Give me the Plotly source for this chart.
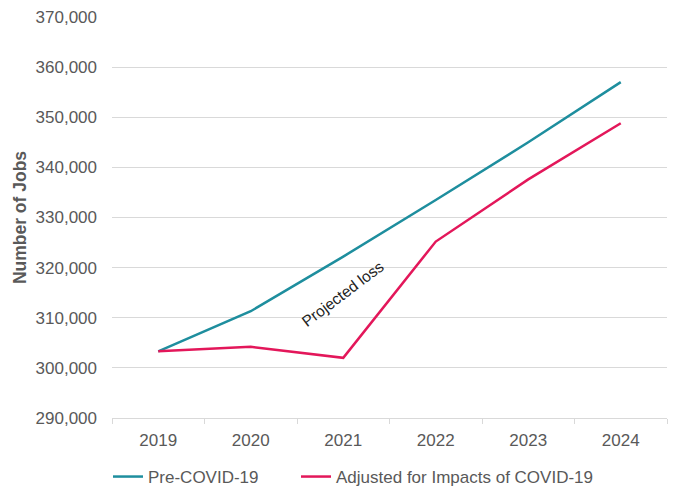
import plotly.graph_objects as go

years = ["2019", "2020", "2021", "2022", "2023", "2024"]
pre_covid = [303300, 311300, 322200, 333500, 345000, 357000]
adjusted = [303300, 304200, 302000, 325200, 337600, 348800]
y_ticks = [290000, 300000, 310000, 320000, 330000, 340000, 350000, 360000, 370000]

TEAL = "#1E8E9E"
CRIMSON = "#E3175A"
GREY_TXT = "#595959"
W, H = 673, 491

fig = go.Figure()
fig.add_trace(go.Scatter(x=years, y=pre_covid, mode="lines", name="Pre-COVID-19",
                         line=dict(color=TEAL, width=2.5), legend="legend"))
fig.add_trace(go.Scatter(x=years, y=adjusted, mode="lines",
                         name="Adjusted for Impacts of COVID-19",
                         line=dict(color=CRIMSON, width=2.5), legend="legend2"))

fig.add_annotation(x=2.0, y=314800, text="Projected loss", showarrow=False,
                   textangle=-37, font=dict(size=15.5, color="#222222"))

legend_common = dict(orientation="h", xref="container", yref="container",
                     xanchor="left", yanchor="middle", y=14 / H,
                     font=dict(size=17, color=GREY_TXT), bgcolor="rgba(0,0,0,0)")

fig.update_layout(
    width=W, height=H,
    margin=dict(l=112, r=6, t=17, b=73, autoexpand=False),
    paper_bgcolor="white", plot_bgcolor="white",
    font=dict(family="Liberation Sans, Arial, sans-serif", color=GREY_TXT, size=17),
    showlegend=True,
    legend=dict(legend_common, x=108 / W),
    legend2=dict(legend_common, x=296 / W),
    xaxis=dict(type="category", range=[-0.5, 5.5], showgrid=False,
               showline=True, linecolor="#d9d9d9", linewidth=1,
               ticks="outside", tickson="boundaries", ticklen=5,
               tickcolor="#d9d9d9", ticklabelstandoff=7,
               tickfont=dict(size=17, color=GREY_TXT)),
    yaxis=dict(range=[290000, 370000], tickvals=y_ticks,
               tickformat=",d", showgrid=True, gridcolor="#d9d9d9", gridwidth=1,
               zeroline=False, showline=False, ticks="", ticklabelstandoff=14,
               tickfont=dict(size=17, color=GREY_TXT),
               title=dict(text="<b>Number of Jobs</b>", font=dict(size=17.5, color=GREY_TXT),
                          standoff=4)),
)

fig.write_html("out.html")
